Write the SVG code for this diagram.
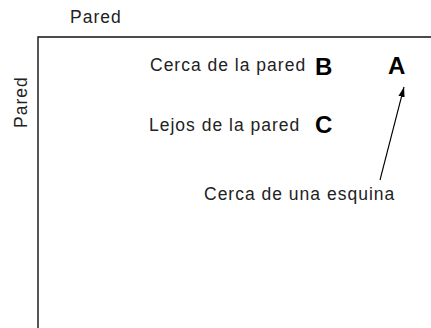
<svg xmlns="http://www.w3.org/2000/svg" width="431" height="328" viewBox="0 0 431 328">
<style>
.lbl{font-family:"Liberation Sans",Arial,sans-serif;font-size:17.5px;letter-spacing:1px;fill:#222}
.big{font-family:"Liberation Sans",Arial,sans-serif;font-size:24px;font-weight:bold;fill:#000}
.wall{stroke:#111;stroke-width:1.4;fill:none}
</style>
<defs>
<marker id="ah" viewBox="0 0 10 10" refX="10" refY="5" markerWidth="10" markerHeight="10" markerUnits="userSpaceOnUse" orient="auto">
<path d="M0,1.8 L10,5 L0,8.2 Z" fill="#000"/>
</marker>
</defs>
<g id="walls">
<path class="wall" d="M431,37 H38 V328"/>
</g>
<g id="wall-top"><text class="lbl" x="70" y="23">Pared</text></g>
<g id="wall-left"><text class="lbl" transform="translate(27,128) rotate(-90)">Pared</text></g>
<g id="near-wall"><text class="lbl" x="150" y="71">Cerca de la pared</text></g>
<g id="B"><text class="big" x="315" y="75">B</text></g>
<g id="A"><text class="big" x="388" y="74">A</text></g>
<g id="far-wall"><text class="lbl" x="149" y="131">Lejos de la pared</text></g>
<g id="C"><text class="big" x="315" y="133">C</text></g>
<g id="near-corner"><text class="lbl" x="204" y="200">Cerca de una esquina</text></g>
<g id="connectors">
<line x1="380" y1="180" x2="404" y2="87" stroke="#000" stroke-width="1.1" marker-end="url(#ah)"/>
</g>
</svg>
